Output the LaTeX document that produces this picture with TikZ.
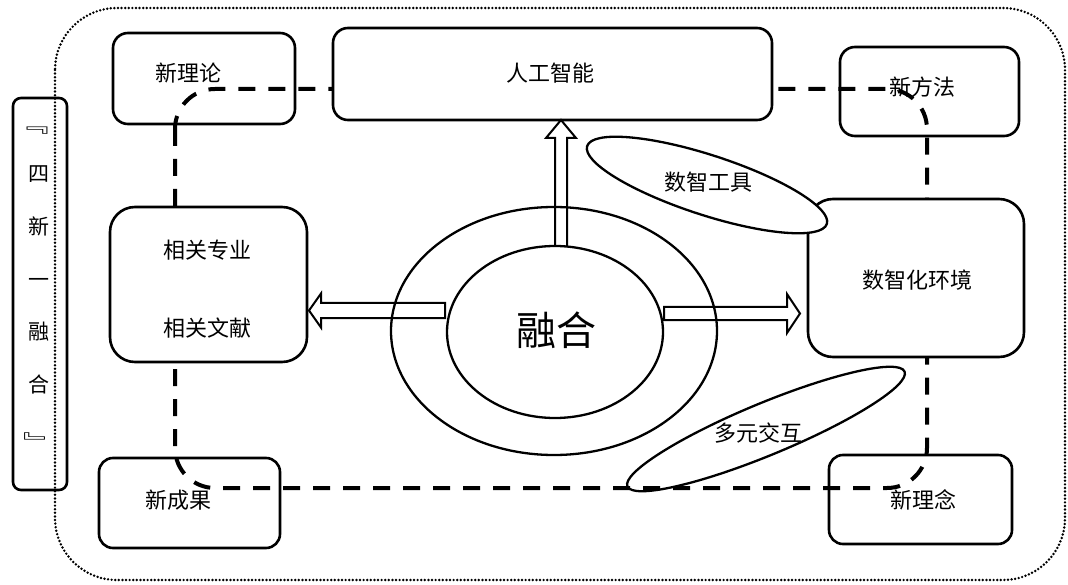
\documentclass[tikz,border=0pt]{standalone}
\usepackage{fontspec}
\newfontfamily\cjk{Noto Sans CJK SC}
\usetikzlibrary{shapes.geometric,calc}
\begin{document}
\begin{tikzpicture}[x=1pt,y=-1pt,
  box/.style={draw, line width=2.6pt, rounded corners=#1, inner sep=0pt, outer sep=0pt},
  lbl/.style={inner sep=0pt, font=\cjk\fontsize{22}{24}\selectfont},
  sidelbl/.style={inner sep=0pt, font=\cjk\fontsize{21}{23}\selectfont},
  ring/.style={draw, ellipse, line width=2.3pt, inner sep=0pt, outer sep=0pt},
  blk/.style={draw, line width=2pt, line join=miter},
  loopline/.style={draw, line width=4pt, dash pattern=on 17pt off 13pt, rounded corners=40pt},
  frame/.style={draw, line width=2.7pt, line cap=round, dash pattern=on 0pt off 3.6pt, rounded corners=62pt}]
\useasboundingbox (0,0) rectangle (1068,585);

% outer dotted frame
\draw[frame] (55,8) rectangle (1065,580);

% side box
\node[box=8pt, minimum width=54pt, minimum height=392pt] (side) at (40,294) {};
\node[sidelbl] (sideopen) at (33,131) {\scalebox{1.5}[1]{﹃}};
\node[inner sep=0pt, align=center, font=\cjk\fontsize{21}{52.6}\selectfont] (sidetxt) at (39,280)
  {四\\新\\一\\融\\合};
\node[sidelbl] (sideclose) at (39.5,442) {\scalebox{1.5}[1]{﹄}};

% dashed loop
\draw[loopline] (175,89) rectangle (927,488);

% corner boxes (transparent)
\node[box=15pt, minimum width=182pt, minimum height=91pt] (ntheory) at (204,78.5) {};
\node[lbl] (ntheorytxt) at (188,73) {新理论};
\node[box=15pt, minimum width=179pt, minimum height=89pt] (nmethod) at (929.5,91.5) {};
\node[lbl] (nmethodtxt) at (922,87) {新方法};
\node[box=14pt, minimum width=181pt, minimum height=90pt] (nresult) at (189.5,503) {};
\node[lbl] (nresulttxt) at (178,500) {新成果};
\node[box=14pt, minimum width=183pt, minimum height=89pt] (nidea) at (920.5,499.5) {};
\node[lbl] (nideatxt) at (923,500) {新理念};

% filled boxes
\node[box=15pt, fill=white, minimum width=439pt, minimum height=92pt] (ai) at (552.5,74) {};
\node[lbl] (aitxt) at (550,73) {人工智能};
\node[box=25pt, fill=white, minimum width=197pt, minimum height=155pt] (rel) at (208.5,284.5) {};
\node[lbl] (reltxta) at (207,250) {相关专业};
\node[lbl] (reltxtb) at (207,328) {相关文献};
\node[box=25pt, fill=white, minimum width=216pt, minimum height=158pt] (env) at (916,278) {};
\node[lbl] (envtxt) at (917,280) {数智化环境};

% central ellipses
\node[ring, minimum width=326pt, minimum height=248pt] (outer) at (554,331) {};
\node[ring, minimum width=216pt, minimum height=172pt] (inner) at (555,332) {};
\node[inner sep=0pt, font=\cjk\fontsize{40}{44}\selectfont] (fusion) at (556,330) {融合};

% block arrows
\coordinate (ub) at ($(inner.north)+(6,0)$);
\coordinate (ut) at (ub |- ai.south);
\draw[blk] ($(ub)+(-6,0)$) -- ($(ut)+(-6,18)$) -- ($(ut)+(-15,18)$) -- (ut)
  -- ($(ut)+(15,18)$) -- ($(ut)+(6,18)$) -- ($(ub)+(6,0)$);

\coordinate (lb) at ($(inner.west)+(-2,-21.5)$);
\coordinate (lt) at ($(lb -| rel.east)+(2,0)$);
\draw[blk] ($(lb)+(0,-7.5)$) -- ($(lt)+(12,-7.5)$) -- ($(lt)+(12,-17)$) -- (lt)
  -- ($(lt)+(12,17)$) -- ($(lt)+(12,7.5)$) -- ($(lb)+(0,7.5)$) -- cycle;

\coordinate (rb) at ($(inner.east)+(1,-18.5)$);
\coordinate (rt) at ($(rb -| env.west)+(-8,0)$);
\draw[blk] ($(rb)+(0,-6.5)$) -- ($(rt)+(-13,-6.5)$) -- ($(rt)+(-13,-19.5)$) -- (rt)
  -- ($(rt)+(-13,19.5)$) -- ($(rt)+(-13,6.5)$) -- ($(rb)+(0,6.5)$) -- cycle;

% tilted ellipses
\node[ring, fill=white, minimum width=252pt, minimum height=60pt, rotate=-18] (toolell) at (707,185) {};
\node[lbl] (tooltxt) at (708,182) {数智工具};
\node[ring, minimum width=300pt, minimum height=52pt, rotate=22.5] (interell) at (766,429) {};
\node[lbl] (intertxt) at (758,433) {多元交互};
\end{tikzpicture}
\end{document}
